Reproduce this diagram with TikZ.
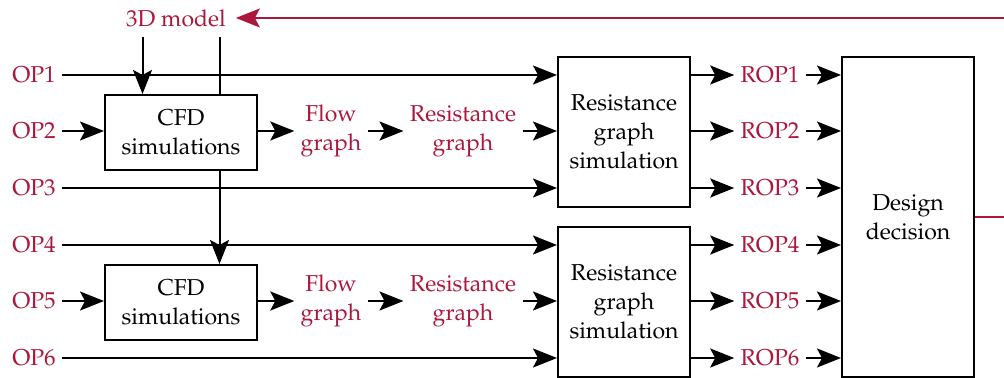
\documentclass[tikz,border=0pt]{standalone}
\IfFileExists{mathpazo.sty}{\usepackage[T1]{fontenc}\usepackage{mathpazo}}{}
\usetikzlibrary{arrows.meta,calc}
\definecolor{crim}{RGB}{172,24,60}
\tikzset{
  every node/.style={font=\fontsize{11.5}{14.5}\selectfont, inner sep=3pt},
  box/.style={draw, line width=1pt, align=center, inner sep=0pt},
  lbl/.style={text=crim, align=center},
  arr/.style={line width=1pt, -{Stealth[length=12pt,width=9.5pt,inset=2.5pt]}},
  rarr/.style={line width=1pt, draw=crim, -{Stealth[length=12pt,width=9.5pt,inset=2.5pt]}, color=crim},
  ln/.style={line width=1pt},
}
\begin{document}
\begin{tikzpicture}[x=0.5pt,y=-0.5pt]
\useasboundingbox (0,0) rectangle (1004,378);
% boxes
\node[box, minimum width=76pt, minimum height=37.5pt] (cfd1) at (181,132.5) {CFD\\simulations};
\node[box, minimum width=76pt, minimum height=37.5pt] (cfd2) at (181,302.5) {CFD\\simulations};
\node[box, minimum width=66pt, minimum height=75pt] (rgs1) at (624,132) {Resistance\\graph\\simulation};
\node[box, minimum width=66pt, minimum height=74.5pt] (rgs2) at (624,302) {Resistance\\graph\\simulation};
\node[box, minimum width=66pt, minimum height=160pt] (dd) at (908,217) {Design\\decision};
% labels
\node[lbl, outer sep=2pt] (model) at (176,18) {3D model};
\coordinate (topR) at (1004,18);
\coordinate (rightR) at (1004,217);
\foreach \i/\y in {1/75,2/131,3/188,4/245,5/301,6/358}{
  \node[lbl] (op\i) at (34,\y) {OP\i};
}
\foreach \i/\y in {1/75,2/131,3/188,4/245,5/301,6/358}{
  \node[lbl] (rop\i) at (770,\y) {ROP\i};
}
\node[lbl] (flow1) at (331,131) {Flow\\graph};
\node[lbl] (res1) at (463,131) {Resistance\\graph};
\node[lbl] (flow2) at (331,301) {Flow\\graph};
\node[lbl] (res2) at (463,301) {Resistance\\graph};
% top feedback
\draw[rarr] (topR) -- (model.east);
\draw[ln, draw=crim] (dd.east |- rightR) -- (rightR);
% 3D model verticals
\coordinate (ca) at ($(cfd1.north west)!0.25!(cfd1.north east)$);
\coordinate (cb) at ($(cfd1.north west)!0.75!(cfd1.north east)$);
\draw[arr] (model.south -| ca) -- (ca);
\draw[ln] (model.south -| cb) -- (cb);
\draw[arr] (cfd1.south -| cb) -- (cfd2.north -| cb);
% OP lines
\draw[arr] (op1.east) -- (rgs1.west |- op1.east);
\draw[arr] (op2.east) -- (cfd1.west |- op2.east);
\draw[arr] (op3.east) -- (rgs1.west |- op3.east);
\draw[arr] (op4.east) -- (rgs2.west |- op4.east);
\draw[arr] (op5.east) -- (cfd2.west |- op5.east);
\draw[arr] (op6.east) -- (rgs2.west |- op6.east);
% chains
\draw[arr] (cfd1.east |- flow1.west) -- (flow1.west);
\draw[arr] (flow1.east) -- (res1.west);
\draw[arr] (res1.east) -- (rgs1.west |- res1.east);
\draw[arr] (cfd2.east |- flow2.west) -- (flow2.west);
\draw[arr] (flow2.east) -- (res2.west);
\draw[arr] (res2.east) -- (rgs2.west |- res2.east);
% ROP
\foreach \i in {1,2,3}{
  \draw[arr] (rgs1.east |- rop\i.west) -- (rop\i.west);
}
\foreach \i in {4,5,6}{
  \draw[arr] (rgs2.east |- rop\i.west) -- (rop\i.west);
}
\foreach \i in {1,...,6}{
  \draw[arr] (rop\i.east) -- (dd.west |- rop\i.east);
}
\end{tikzpicture}
\end{document}
